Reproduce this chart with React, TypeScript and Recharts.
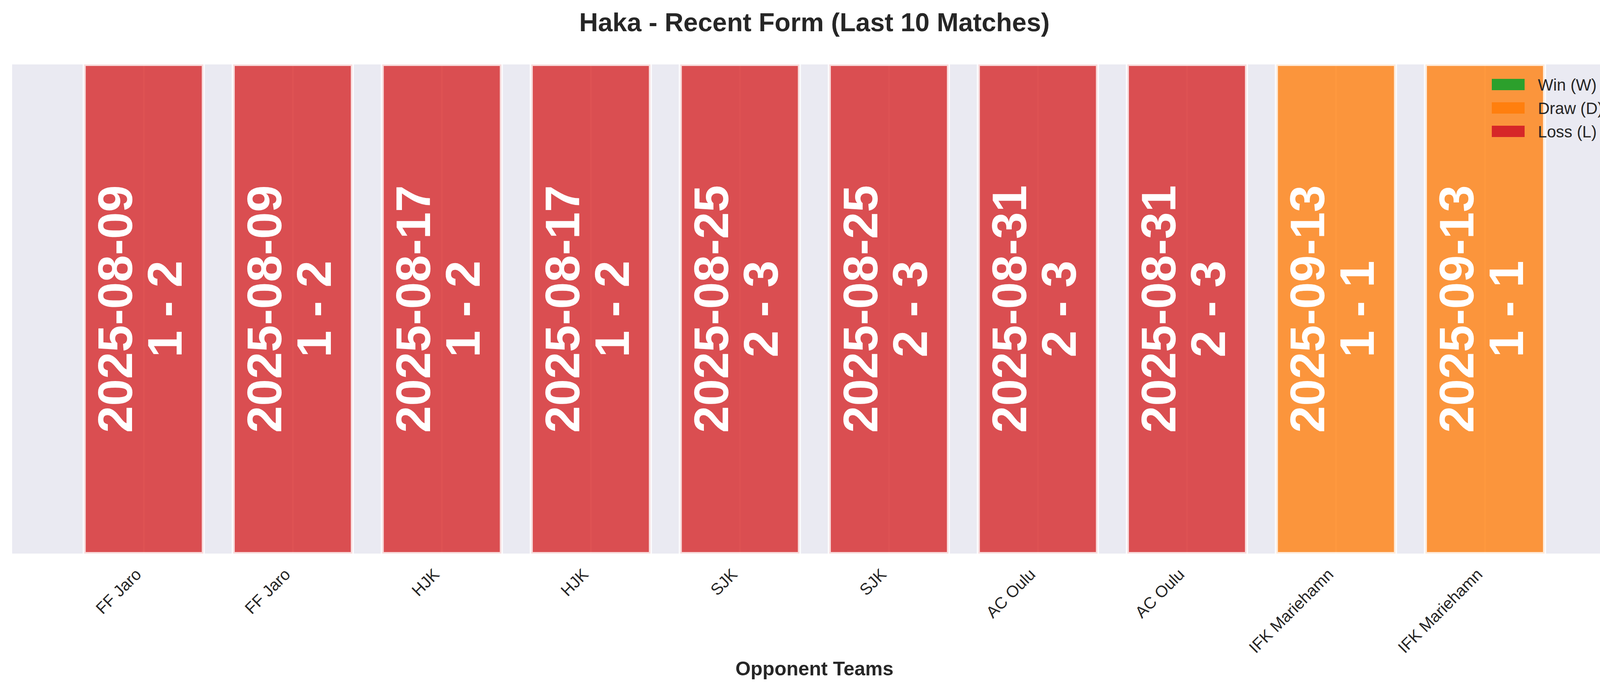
import React from 'react';
import { BarChart, Bar, XAxis, YAxis, CartesianGrid, Cell, LabelList, Legend } from 'recharts';

const opponents = ['FF Jaro', 'FF Jaro', 'HJK', 'HJK', 'SJK', 'SJK', 'AC Oulu', 'AC Oulu', 'IFK Mariehamn', 'IFK Mariehamn'];
const matchDates = ['2025-08-09', '2025-08-09', '2025-08-17', '2025-08-17', '2025-08-25', '2025-08-25', '2025-08-31', '2025-08-31', '2025-09-13', '2025-09-13'];
const scores = ['1 - 2', '1 - 2', '1 - 2', '1 - 2', '2 - 3', '2 - 3', '2 - 3', '2 - 3', '1 - 1', '1 - 1'];
const results = ['L', 'L', 'L', 'L', 'L', 'L', 'L', 'L', 'D', 'D'];
const barHeights = [1, 1, 1, 1, 1, 1, 1, 1, 1, 1];

const resultKeys = ['W', 'D', 'L'];
const legendLabels = ['Win (W)', 'Draw (D)', 'Loss (L)'];
const resultColors: Record<string, string> = { W: '#2ca02c', D: '#ff7f0e', L: '#d62728' };

const FONT = "'Liberation Sans', Arial, sans-serif";
const TEXT = '#262626';

const data = opponents.map((o, i) => ({
  key: String(i),
  opponent: o,
  date: matchDates[i],
  score: scores[i],
  result: results[i],
  value: barHeights[i],
}));

const BarText = (props: any) => {
  const { x, y, width, height, index } = props;
  const cx = Number(x) + Number(width) / 2;
  const cy = Number(y) + Number(height) / 2;
  const d = data[index];
  return (
    <text
      transform={`rotate(-90, ${cx}, ${cy})`}
      textAnchor="middle"
      fill="#ffffff"
      fontFamily={FONT}
      fontWeight="bold"
      fontSize={124}
    >
      <tspan x={cx} y={cy - 30}>{d.date}</tspan>
      <tspan x={cx} y={cy + 97}>{d.score}</tspan>
    </text>
  );
};

const TeamTick = (props: any) => {
  const { x, y, payload } = props;
  const label = opponents[Number(payload.value)];
  const px = Number(x) - 4;
  const py = Number(y) + 56;
  return (
    <text
      x={px}
      y={py}
      transform={`rotate(-45, ${px}, ${py})`}
      textAnchor="end"
      fill={TEXT}
      fontFamily={FONT}
      fontSize={41.7}
    >
      {label}
    </text>
  );
};

const LegendBox = () => (
  <div style={{ position: 'relative', width: 330, height: 180, fontFamily: FONT }}>
    {resultKeys.map((k, i) => (
      <div key={k} style={{ position: 'absolute', left: 0, top: 12 + i * 60, height: 29, display: 'flex', alignItems: 'center' }}>
        <div style={{ width: 84, height: 29, background: resultColors[k] }} />
        <div style={{ marginLeft: 34, fontSize: 41.7, color: TEXT, lineHeight: '29px', whiteSpace: 'nowrap', position: 'relative', top: 1 }}>
          {legendLabels[i]}
        </div>
      </div>
    ))}
  </div>
);

export default function App() {
  return (
    <div style={{ position: 'absolute', left: 0, top: 0, width: 4170, height: 1770, background: '#ffffff', fontFamily: FONT }}>
      <div
        style={{
          position: 'absolute',
          left: 0,
          top: 24,
          width: 4170,
          textAlign: 'center',
          fontSize: 66.7,
          lineHeight: 1,
          fontWeight: 'bold',
          color: TEXT,
          fontFamily: FONT,
        }}
      >
        Haka - Recent Form (Last 10 Matches)
      </div>
      <BarChart
        width={4170}
        height={1770}
        data={data}
        margin={{ top: 165, right: 29, bottom: 0, left: 29 }}
        style={{ position: 'absolute', left: 0, top: 0 }}
      >
        <CartesianGrid horizontal={false} vertical={true} stroke="#ffffff" strokeWidth={4} fill="#eaeaf2" />
        <XAxis
          dataKey="key"
          type="category"
          interval={0}
          axisLine={false}
          tickLine={false}
          tickSize={0}
          tickMargin={0}
          height={352}
          padding={{ left: 148.5, right: 148.5 }}
          tick={<TeamTick />}
          label={{
            value: 'Opponent Teams',
            position: 'insideBottom',
            offset: 40,
            style: { fontSize: 50, fontWeight: 'bold', fill: TEXT, fontFamily: FONT },
          }}
        />
        <YAxis hide type="number" domain={[0, 1]} allowDataOverflow />
        <Legend
          layout="vertical"
          align="center"
          verticalAlign="middle"
          content={<LegendBox />}
          wrapperStyle={{ left: 3819, top: 190, width: 330, height: 180 }}
        />
        <Bar
          dataKey="value"
          barSize={305}
          fillOpacity={0.8}
          stroke="#ffffff"
          strokeOpacity={0.8}
          strokeWidth={8}
          isAnimationActive={false}
        >
          {data.map((d) => (
            <Cell key={d.key} fill={resultColors[d.result]} />
          ))}
          <LabelList dataKey="date" content={<BarText />} />
        </Bar>
      </BarChart>
    </div>
  );
}
